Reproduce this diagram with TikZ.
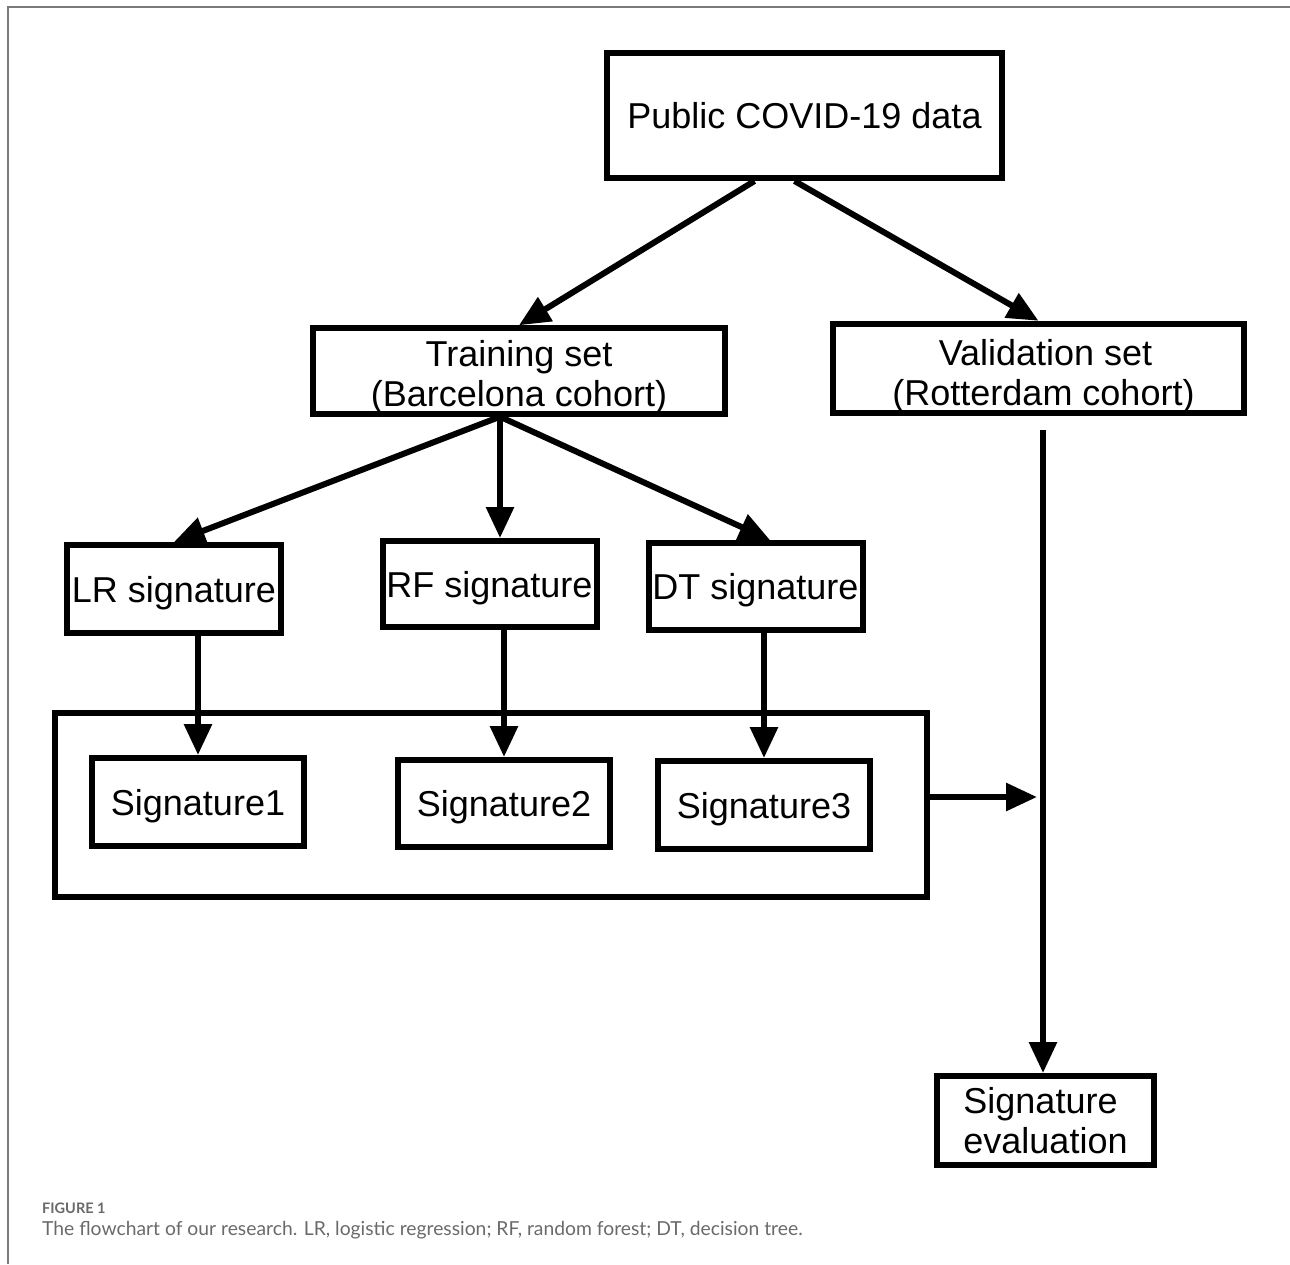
\documentclass[tikz,border=0pt]{standalone}
\usepackage{fontspec}
\setmainfont{Liberation Sans}
\newfontfamily\capfont{Lato}
\usetikzlibrary{arrows.meta}

\definecolor{framegray}{HTML}{7A7A7A}
\definecolor{capgray}{HTML}{6A6A6A}

\tikzset{box/.style = {draw, rectangle, line width = 6pt, inner sep = 0pt,
                       minimum width = #1, align = center,
                       font = \fontsize{36}{40}\selectfont},
         box/.default = 214pt,
         oneline/.style = {text depth = 0pt},
         flow/.style = {line width = 6pt, -{Triangle[length=31pt,width=27pt]}}
        }

\begin{document}
\begin{tikzpicture}[x=1pt,y=-1pt]
  \tikzstyle{capfig}=[inner sep=0pt, text=capgray, font=\capfont\bfseries\fontsize{14.5}{16}\selectfont]
  \tikzstyle{captext}=[inner sep=0pt, text=capgray, font=\capfont\fontsize{19.3}{22}\selectfont]
  \useasboundingbox (0,0) rectangle (1290,1264);
  % frame
  \draw[framegray, line width=2pt] (1290,7) -- (8,7) -- (8,1264);
  % boxes
  \node[box=395pt, minimum height=125pt, oneline] (pub) at (804.5,115.5) {Public COVID-19 data};
  \node[box=412pt, minimum height=84pt] (train) at (519,371) {\rule{0pt}{38pt}Training set\\(Barcelona cohort)};
  \node[box=411pt, minimum height=83pt] (val) at (1038.5,368.5) {\rule{0pt}{42pt}\hspace*{14pt}Validation set\\\hspace*{10pt}(Rotterdam cohort)};
  \node[box, minimum height=88pt, oneline] (lr) at (174,589) {LR signature};
  \node[box, minimum height=86pt, oneline] (rf) at (489.5,584) {RF signature};
  \node[box, minimum height=87pt, oneline] (dt) at (755.5,586.5) {DT signature};
  \node[box=872pt, minimum height=184pt] (group) at (491,805) {};
  \node[box=212pt, minimum height=88pt, oneline] (sig1) at (198,802) {Signature1};
  \node[box=212pt, minimum height=87pt, oneline] (sig2) at (504,803.5) {Signature2};
  \node[box=212pt, minimum height=88pt, oneline] (sig3) at (764,805) {Signature3};
  \node[box=217pt, minimum height=89pt, align=left] (eval) at (1045.5,1120.5) {Signature\\evaluation};
  \coordinate (join) at (1043,797);
  \coordinate (vtop) at (1043,430);
  % arrows
  \draw[flow] ([xshift=-50pt]pub.south) -- (train.north);
  \draw[flow] ([xshift=-10pt]pub.south) -- (val.north);
  \draw[flow] ([xshift=-19pt]train.south) -- (lr.north);
  \draw[flow] ([xshift=-19pt]train.south) -- ([xshift=10.5pt]rf.north);
  \draw[flow] ([xshift=-19pt]train.south) -- ([xshift=14.5pt]dt.north);
  \draw[flow] (sig1.north |- lr.south) -- (sig1.north);
  \draw[flow] (sig2.north |- rf.south) -- (sig2.north);
  \draw[flow] (sig3.north |- dt.south) -- (sig3.north);
  \draw[flow] (group.east |- join) -- ([xshift=-6pt]join);
  \draw[line width=6pt] (vtop) -- (join);
  \draw[flow] (join) -- (vtop |- eval.north);
  % caption
  \node[capfig, anchor=base west] (fig) at (42,1213) {FIGURE 1};
  \node[captext, anchor=base west] (cap) at (42,1235) {The flowchart of our research. LR, logistic regression; RF, random forest; DT, decision tree.};
\end{tikzpicture}
\end{document}
